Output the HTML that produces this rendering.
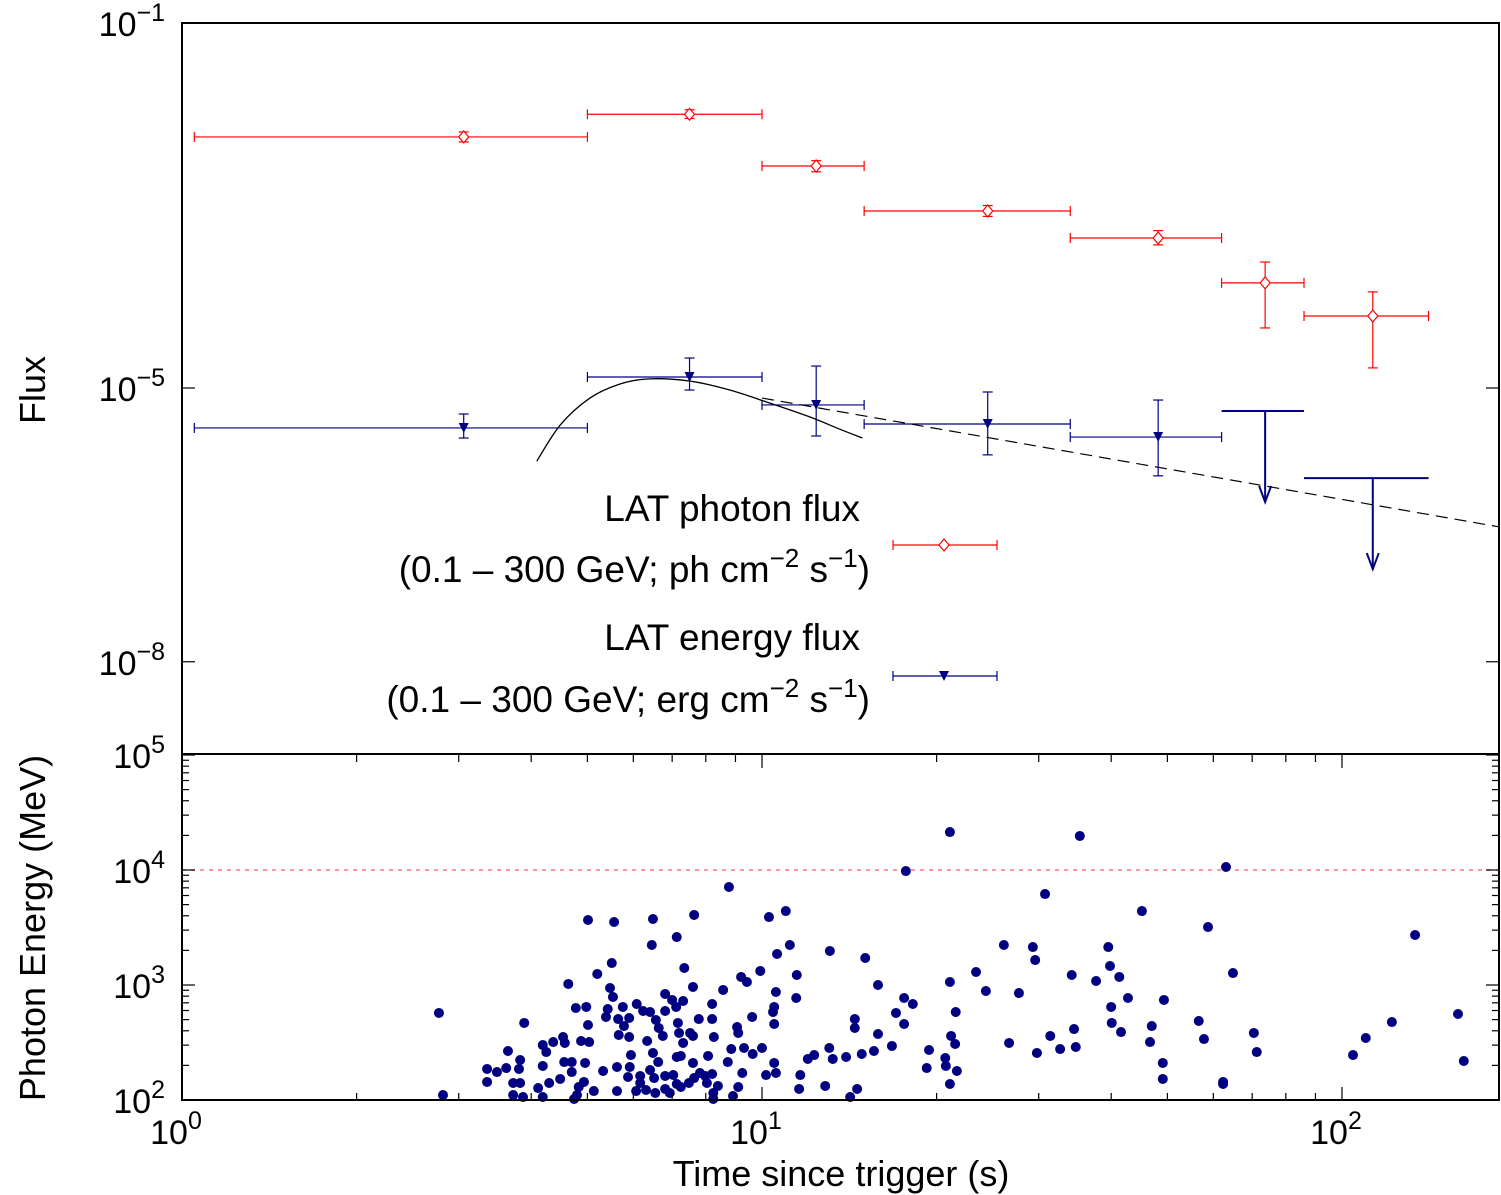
<!DOCTYPE html>
<html><head><meta charset="utf-8"><style>
html,body{margin:0;padding:0;background:#fff;}
svg{display:block;font-family:"Liberation Sans",sans-serif;}
</style></head><body>
<svg id="chart" width="1501" height="1195" viewBox="0 0 1501 1195" xmlns="http://www.w3.org/2000/svg">
<g id="top-panel"></g>
<g id="bottom-panel"></g>
<g id="axes"></g>
</svg>
<script>
// ---- data ----
const photonTimeLo = [1.05, 5, 10, 15, 34, 62, 86];
const photonTimeHi = [5, 10, 15, 34, 62, 86, 141];
const photonTime = [3.06, 7.5, 12.4, 24.5, 48.2, 73.7, 113];
const photonFlux = [5.64e-3, 1.0e-2, 2.71e-3, 8.7e-4, 4.4e-4, 1.42e-4, 6.15e-5];
const photonErrLo = [4.97e-3, 9.0e-3, 2.34e-3, 7.6e-4, 3.7e-4, 4.55e-5, 1.66e-5];
const photonErrHi = [6.4e-3, 1.12e-2, 3.1e-3, 1.0e-3, 5.3e-4, 2.4e-4, 1.13e-4];

const energyTimeLo = [1.05, 5, 10, 15, 34];
const energyTimeHi = [5, 10, 15, 34, 62];
const energyTime = [3.06, 7.5, 12.4, 24.5, 48.2];
const energyFlux = [3.65e-6, 1.32e-5, 6.52e-6, 4.03e-6, 2.9e-6];
const energyErrLo = [2.83e-6, 9.5e-6, 2.98e-6, 1.85e-6, 1.09e-6];
const energyErrHi = [5.19e-6, 2.13e-5, 1.74e-5, 9.04e-6, 7.38e-6];

const ulTimeLo = [62, 86];
const ulTimeHi = [86, 141];
const ulTime = [73.7, 113];
const ulFlux = [5.6e-6, 1.03e-6];

const modelTime = [4.09, 4.49, 5.05, 5.7, 6.4, 7.52, 8.8, 10.3, 12.1, 13.6, 14.9];
const modelFlux = [1.58e-6, 3.94e-6, 7.76e-6, 1.11e-5, 1.26e-5, 1.19e-5, 9.5e-6, 6.85e-6, 4.81e-6, 3.55e-6, 2.83e-6];
const plawTime = [10, 187];
const plawFlux = [7.76e-6, 3.0e-7];

const logTime = [0.443,0.450,0.526,0.526,0.543,0.559,0.562,0.571,0.583,0.571,0.588,0.583,0.581,0.590,0.614,0.622,0.622,0.628,0.622,0.633,0.640,0.652,0.657,0.660,0.659,0.672,0.672,0.666,0.679,0.697,0.688,0.702,0.700,0.695,0.693,0.684,0.681,0.676,0.710,0.700,0.716,0.726,0.745,0.741,0.738,0.743,0.734,0.731,0.750,0.750,0.752,0.760,0.762,0.753,0.771,0.771,0.774,0.772,0.769,0.783,0.784,0.790,0.790,0.795,0.807,0.800,0.802,0.807,0.812,0.814,0.812,0.810,0.817,0.822,0.829,0.821,0.816,0.833,0.833,0.833,0.833,0.841,0.845,0.852,0.853,0.847,0.853,0.860,0.855,0.857,0.864,0.864,0.866,0.853,0.860,0.881,0.883,0.876,0.881,0.881,0.874,0.883,0.891,0.893,0.907,0.902,0.905,0.914,0.914,0.917,0.914,0.924,0.916,0.916,0.933,0.943,0.950,0.959,0.966,0.947,0.941,0.959,0.957,0.969,0.964,0.974,0.983,0.984,1.000,0.997,1.007,1.024,1.021,1.021,1.019,1.021,1.024,1.026,1.012,1.041,1.048,1.060,1.059,1.066,1.064,1.079,1.090,
1.324,1.548,1.248,1.800,1.488,1.655,1.769,2.126,1.117,1.178,1.417,1.467,1.471,1.597,1.600,1.616,1.369,1.386,1.443,1.534,1.576,1.812,1.324,1.200,1.245,1.260,1.334,1.231,1.160,1.160,1.245,1.200,1.631,1.693,1.602,1.603,1.619,1.672,1.669,1.753,1.762,1.848,1.853,2.200,2.086,2.041,2.019,2.210,1.538,1.497,1.541,1.514,1.474,1.426,1.326,1.333,1.288,1.284,1.316,1.317,1.336,1.324,1.224,1.193,1.172,1.145,1.122,1.116,1.691,1.691,1.795,1.795,1.109,1.164,1.152];
const logEnergy = [2.757,2.043,2.270,2.157,2.243,2.278,2.426,2.148,2.148,2.043,2.026,2.348,2.270,2.670,2.104,2.296,2.478,2.417,2.026,2.148,2.504,2.183,2.548,2.496,2.330,2.330,2.243,3.009,2.800,2.809,2.513,2.504,2.652,2.322,2.157,2.113,2.043,2.009,2.078,3.565,3.096,2.252,3.548,3.191,2.974,2.896,2.791,2.722,2.287,2.078,2.704,2.809,2.643,2.565,2.713,2.548,2.391,2.287,2.200,2.078,2.835,2.209,2.148,2.774,2.765,2.087,2.513,2.261,2.409,2.191,3.574,3.348,2.696,2.626,2.557,2.330,2.061,2.922,2.774,2.209,2.096,2.061,2.870,2.809,3.417,2.217,2.139,2.113,2.670,2.583,2.496,2.861,3.148,2.374,2.383,2.983,3.609,2.583,2.557,2.322,2.148,2.191,2.704,2.235,2.383,2.209,2.148,2.835,2.704,2.548,2.226,2.122,2.061,2.009,2.957,3.852,2.035,2.113,2.235,2.443,2.330,2.583,2.635,2.452,3.070,3.026,2.722,2.400,2.452,3.122,2.217,2.235,2.322,2.661,2.765,2.809,2.939,3.270,3.591,3.643,3.348,3.087,2.887,2.217,2.096,2.357,2.391,
4.330,4.296,3.991,4.026,3.791,3.643,3.504,3.435,3.296,3.235,3.348,3.330,3.217,3.330,3.165,3.070,3.113,2.948,2.930,3.087,3.035,3.104,3.026,3.000,2.887,2.835,2.765,2.757,2.704,2.626,2.661,2.574,2.887,2.870,2.809,2.670,2.591,2.643,2.504,2.687,2.530,2.583,2.417,2.748,2.678,2.539,2.391,2.339,2.617,2.557,2.461,2.443,2.409,2.496,2.557,2.487,2.435,2.278,2.365,2.296,2.252,2.139,2.470,2.426,2.400,2.374,2.357,2.452,2.322,2.183,2.157,2.139,2.122,2.096,2.026];
const energyThreshold = 1e4;

const xTickLabels = ["0","1","2"];
const topTickExps = ["-1","-5","-8"];
const bottomTickExps = ["5","4","3","2"];

// ---- axis functions ----
const X0 = 182, X1 = 1499, PXD = 580;
const xs = t => X0 + Math.log10(t) * PXD;
const yTop = f => 23 + (-1 - Math.log10(f)) * 91.25;
const yBot = e => 1100 - (Math.log10(e) - 2) * 115;

const NS = "http://www.w3.org/2000/svg";
function mk(tag, attrs, parent) {
  const el = document.createElementNS(NS, tag);
  for (const k in attrs) el.setAttribute(k, attrs[k]);
  parent.appendChild(el);
  return el;
}
const topG = document.getElementById('top-panel');
const botG = document.getElementById('bottom-panel');
const axesG = document.getElementById('axes');

function errBar(parent, tlo, thi, t, f, elo, ehi, color, name) {
  const g = mk('g', {}, parent);
  
  
  const y = yTop(f);
  mk('line', {x1: xs(tlo), x2: xs(thi), y1: y, y2: y, stroke: color, 'stroke-width': 1.2}, g);
  mk('line', {x1: xs(tlo), x2: xs(tlo), y1: y-5, y2: y+5, stroke: color, 'stroke-width': 1.2}, g);
  mk('line', {x1: xs(thi), x2: xs(thi), y1: y-5, y2: y+5, stroke: color, 'stroke-width': 1.2}, g);
  const x = xs(t);
  mk('line', {x1: x, x2: x, y1: yTop(elo), y2: yTop(ehi), stroke: color, 'stroke-width': 1.2}, g);
  mk('line', {x1: x-5, x2: x+5, y1: yTop(elo), y2: yTop(elo), stroke: color, 'stroke-width': 1.2}, g);
  mk('line', {x1: x-5, x2: x+5, y1: yTop(ehi), y2: yTop(ehi), stroke: color, 'stroke-width': 1.2}, g);
  return g;
}
function diamond(parent, x, y) {
  return mk('polygon', {points: `${x},${y-6} ${x+5},${y} ${x},${y+6} ${x-5},${y}`, fill: '#fff', stroke: '#f00', 'stroke-width': 1.2}, parent);
}
function tri(parent, x, y) {
  return mk('polygon', {points: `${x-5},${y-5} ${x+5},${y-5} ${x},${y+5}`, fill: '#000080'}, parent);
}

for (let i = 0; i < photonTime.length; i++) {
  const g = errBar(topG, photonTimeLo[i], photonTimeHi[i], photonTime[i], photonFlux[i], photonErrLo[i], photonErrHi[i], '#f00', 'photon-flux-point');
  diamond(g, xs(photonTime[i]), yTop(photonFlux[i]));
}
for (let i = 0; i < energyTime.length; i++) {
  const g = errBar(topG, energyTimeLo[i], energyTimeHi[i], energyTime[i], energyFlux[i], energyErrLo[i], energyErrHi[i], '#000080', 'energy-flux-point');
  tri(g, xs(energyTime[i]), yTop(energyFlux[i]));
}
for (let i = 0; i < ulTime.length; i++) {
  const g = mk('g', {}, topG);
  
  
  const y = yTop(ulFlux[i]), x = xs(ulTime[i]), y2 = y + 91;
  mk('line', {x1: xs(ulTimeLo[i]), x2: xs(ulTimeHi[i]), y1: y, y2: y, stroke: '#000080', 'stroke-width': 2}, g);
  mk('line', {x1: x, x2: x, y1: y, y2: y2, stroke: '#000080', 'stroke-width': 2}, g);
  mk('polyline', {points: `${x-6},${y2-16} ${x},${y2} ${x+6},${y2-16}`, fill: 'none', stroke: '#000080', 'stroke-width': 2}, g);
}
// smooth model curve (Catmull-Rom through data points)
const mp = modelTime.map((t,i)=>[xs(t), yTop(modelFlux[i])]);
let d = `M${mp[0][0]},${mp[0][1]}`;
for (let i = 0; i < mp.length - 1; i++) {
  const p0 = mp[Math.max(0,i-1)], p1 = mp[i], p2 = mp[i+1], p3 = mp[Math.min(mp.length-1,i+2)];
  const c1 = [p1[0] + (p2[0]-p0[0])/6, p1[1] + (p2[1]-p0[1])/6];
  const c2 = [p2[0] - (p3[0]-p1[0])/6, p2[1] - (p3[1]-p1[1])/6];
  d += ` C${c1[0]},${c1[1]} ${c2[0]},${c2[1]} ${p2[0]},${p2[1]}`;
}
const mc = mk('path', {d: d, fill: 'none', stroke: '#000', 'stroke-width': 1.3}, topG);


const pl = mk('line', {x1: xs(plawTime[0]), y1: yTop(plawFlux[0]), x2: xs(plawTime[1]), y2: yTop(plawFlux[1]), stroke: '#000', 'stroke-width': 1.2, 'stroke-dasharray': '12,7'}, topG);



const lg = mk('g', {'font-size': 37, 'text-anchor': 'end', fill: '#000'}, topG);


lg.innerHTML = `
<text x="860" y="521">LAT photon flux</text>
<text x="870" y="582">(0.1 – 300 GeV; ph cm<tspan dy="-15" font-size="26">−2</tspan><tspan dy="15"> s</tspan><tspan dy="-15" font-size="26">−1</tspan><tspan dy="15">)</tspan></text>
<text x="860" y="650">LAT energy flux</text>
<text x="870" y="712">(0.1 – 300 GeV; erg cm<tspan dy="-15" font-size="26">−2</tspan><tspan dy="15"> s</tspan><tspan dy="-15" font-size="26">−1</tspan><tspan dy="15">)</tspan></text>
<g>
<line x1="893" x2="997" y1="545" y2="545" stroke="#f00" stroke-width="1.2"/><line x1="893" x2="893" y1="540" y2="550" stroke="#f00" stroke-width="1.2"/><line x1="997" x2="997" y1="540" y2="550" stroke="#f00" stroke-width="1.2"/>
<polygon points="944,539 949,545 944,551 939,545" fill="#fff" stroke="#f00" stroke-width="1.2"/></g>
<g>
<line x1="893" x2="997" y1="676" y2="676" stroke="#000080" stroke-width="1.2"/><line x1="893" x2="893" y1="671" y2="681" stroke="#000080" stroke-width="1.2"/><line x1="997" x2="997" y1="671" y2="681" stroke="#000080" stroke-width="1.2"/>
<polygon points="939,671 949,671 944,681" fill="#000080"/></g>`;

const th = mk('line', {x1: X0, x2: X1, y1: yBot(energyThreshold), y2: yBot(energyThreshold), stroke: '#f77', 'stroke-width': 1.5, 'stroke-dasharray': '4,5'}, botG);


for (let i = 0; i < logTime.length; i++) {
  const c = mk('circle', {cx: xs(Math.pow(10, logTime[i])), cy: yBot(Math.pow(10, logEnergy[i])), r: 5, fill: '#000080'}, botG);
  
  
}

mk('rect', {x: X0, y: 23, width: X1 - X0, height: 1100 - 23, fill: 'none', stroke: '#000', 'stroke-width': 2}, axesG);
mk('line', {x1: X0, x2: X1, y1: 754, y2: 754, stroke: '#000', 'stroke-width': 2}, axesG);

for (let dd = 0; dd <= 2; dd++) {
  for (let m = 1; m <= 9; m++) {
    const x = xs(m * Math.pow(10, dd));
    if (x > X1) break;
    const L = m === 1 ? 13 : 7;
    mk('line', {x1: x, x2: x, y1: 1100, y2: 1100 - L, stroke: '#000', 'stroke-width': 1.2}, axesG);
    mk('line', {x1: x, x2: x, y1: 755, y2: 755 + L, stroke: '#000', 'stroke-width': 1.2}, axesG);
  }
}
xTickLabels.forEach(e => {
  const t = mk('text', {x: xs(Math.pow(10, +e)) - 6, y: 1144, 'font-size': 34, 'text-anchor': 'middle'}, axesG);
  
  
  t.innerHTML = `10<tspan dy="-15" font-size="25">${e}</tspan>`;
});
topTickExps.forEach(e => {
  const y = yTop(Math.pow(10, +e));
  if (y > 30) {
    mk('line', {x1: X0, x2: X0 + 13, y1: y, y2: y, stroke: '#000', 'stroke-width': 1.2}, axesG);
    mk('line', {x1: X1, x2: X1 - 13, y1: y, y2: y, stroke: '#000', 'stroke-width': 1.2}, axesG);
  }
  const t = mk('text', {x: 165, y: y + 13, 'font-size': 34, 'text-anchor': 'end'}, axesG);
  
  
  t.innerHTML = `10<tspan dy="-15" font-size="25">${e.replace('-', '−')}</tspan>`;
});
for (let dd = 2; dd <= 5; dd++) {
  for (let m = 1; m <= 9; m++) {
    const y = yBot(m * Math.pow(10, dd));
    if (y < 754) break;
    const L = m === 1 ? 13 : 7;
    mk('line', {x1: X0, x2: X0 + L, y1: y, y2: y, stroke: '#000', 'stroke-width': 1.2}, axesG);
    mk('line', {x1: X1, x2: X1 - L, y1: y, y2: y, stroke: '#000', 'stroke-width': 1.2}, axesG);
  }
}
bottomTickExps.forEach(e => {
  const y = yBot(Math.pow(10, +e));
  const t = mk('text', {x: 165, y: y + 13, 'font-size': 34, 'text-anchor': 'end'}, axesG);
  
  
  t.innerHTML = `10<tspan dy="-15" font-size="25">${e}</tspan>`;
});
const xt = mk('text', {x: 841, y: 1186, 'font-size': 36, 'text-anchor': 'middle'}, axesG);


xt.textContent = 'Time since trigger (s)';
const yt1 = mk('text', {x: 0, y: 0, 'font-size': 36, 'text-anchor': 'middle', transform: 'translate(45,390) rotate(-90)'}, axesG);


yt1.textContent = 'Flux';
const yt2 = mk('text', {x: 0, y: 0, 'font-size': 36, 'text-anchor': 'middle', transform: 'translate(45,928) rotate(-90)'}, axesG);


yt2.textContent = 'Photon Energy (MeV)';
</script>
</body></html>
